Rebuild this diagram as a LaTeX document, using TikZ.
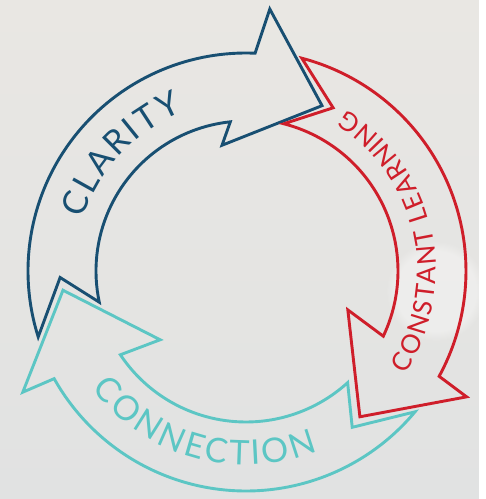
\documentclass[tikz,border=0pt]{standalone}
\usepackage{fontspec}
\setmainfont{Lato}
\usetikzlibrary{decorations.text, fadings}

\definecolor{clarityblue}{RGB}{24,79,114}
\definecolor{learnred}{RGB}{207,30,42}
\definecolor{connectteal}{RGB}{92,198,196}
\definecolor{bgtop}{RGB}{233,231,227}
\definecolor{bgbot}{RGB}{225,226,226}

\begin{document}
\begin{tikzpicture}[
    band/.style={line width=2.9pt, line join=miter},
    along/.style={decorate, decoration={text along path, text align={fit to path}, raise=#1}},
]
\fill[top color=bgtop, bottom color=bgbot] (-246pt,271pt) rectangle (233pt,-228pt);
\fill[white, opacity=0.35, path fading=circle with fuzzy edge 20 percent] (190pt,-20pt) circle (50pt);
\useasboundingbox (-246pt,271pt) rectangle (233pt,-228pt);

% clarity
\draw[band, draw=clarityblue] (197.6:218pt) arc[start angle=197.6, end angle=87.6, radius=218pt]
    -- (84.8:263pt) -- (65.3:182pt) -- (100.8:128pt) -- (96:150pt)
    arc[start angle=96, end angle=192, radius=150pt] -- (182:186pt) -- cycle;
\path[along=-12pt, decoration={text={|\fontsize{34}{34}\selectfont\color{clarityblue}|CLARITY}}]
    (162:183pt) arc[start angle=162, end angle=112, radius=183pt];

% constant learning
\draw[band, draw=learnred] (75.3:220pt) arc[start angle=75.3, end angle=-28.6, radius=220pt]
    -- (-29.7:254pt) -- (-52:185pt) -- (-20.9:109pt) -- (-25.4:152pt)
    arc[start angle=-25.4, end angle=75.6, radius=152pt] -- (61.9:185pt) -- cycle;
\path[along=-9pt, decoration={text={|\fontsize{26}{26}\selectfont\color{learnred}|CONSTANT LEARNING}}]
    (-33:181pt) arc[start angle=-33, end angle=58, radius=181pt];

% connection
\draw[band, draw=connectteal] (320.2:220pt) arc[start angle=320.2, end angle=209.3, radius=220pt]
    -- (208.5:254pt) -- (186:184pt) -- (218.7:110pt) -- (213.7:151pt)
    arc[start angle=213.7, end angle=312.3, radius=151pt] -- (304.2:189pt) -- cycle;
\path[along=-12pt, decoration={text={|\fontsize{34}{34}\selectfont\color{connectteal}|CONNECTION}}]
    (217:182pt) arc[start angle=217, end angle=292, radius=182pt];
\end{tikzpicture}
\end{document}
